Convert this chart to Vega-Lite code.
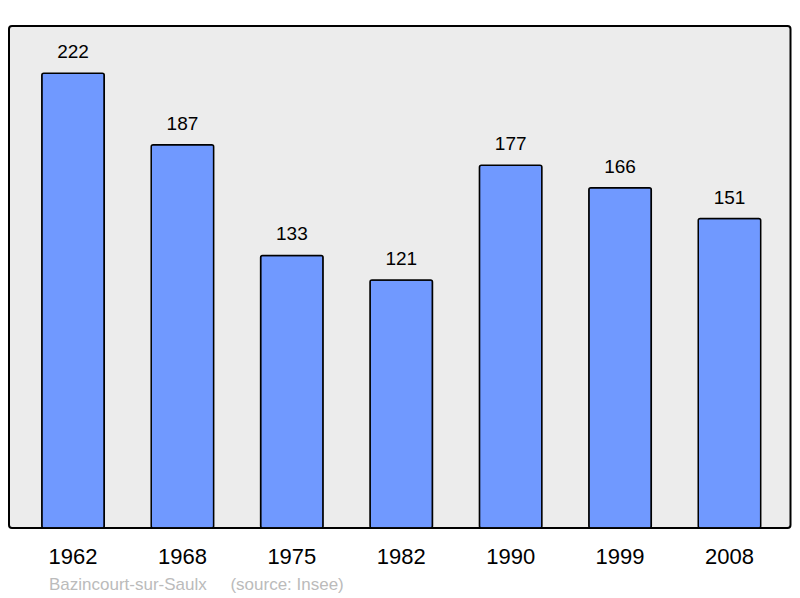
{
  "$schema": "https://vega.github.io/schema/vega-lite/v6.json",
  "autosize": "none",
  "width": 781.5,
  "height": 502,
  "padding": {"left": 9, "top": 26, "right": 9.5, "bottom": 70},
  "background": "white",
  "config": {
    "font": "Liberation Sans",
    "view": {"fill": "#ececec", "stroke": "black", "strokeWidth": 2, "cornerRadius": 3}
  },
  "title": {
    "text": "Bazincourt-sur-Saulx\u00a0\u00a0\u00a0\u00a0\u00a0(source: Insee)",
    "orient": "bottom",
    "anchor": "start",
    "frame": "group",
    "dx": 40,
    "offset": 10,
    "fontSize": 17,
    "fontWeight": "normal",
    "color": "#bbbbbb",
    "font": "Liberation Sans"
  },
  "data": {
    "values": [
      {"year": "1962", "pop": 222},
      {"year": "1968", "pop": 187},
      {"year": "1975", "pop": 133},
      {"year": "1982", "pop": 121},
      {"year": "1990", "pop": 177},
      {"year": "1999", "pop": 166},
      {"year": "2008", "pop": 151}
    ]
  },
  "encoding": {
    "x": {
      "field": "year",
      "type": "ordinal",
      "sort": null,
      "scale": {"paddingInner": 0.429, "paddingOuter": 0.286, "align": 0.524},
      "axis": {
        "title": null,
        "domain": false,
        "ticks": false,
        "tickSize": 0,
        "grid": false,
        "labelAngle": 0,
        "labelFontSize": 22,
        "labelColor": "black",
        "labelBaseline": "alphabetic",
        "labelPadding": 35
      }
    },
    "y": {
      "field": "pop",
      "type": "quantitative",
      "scale": {"domain": [0, 245], "nice": false, "zero": true},
      "axis": null
    }
  },
  "layer": [
    {
      "mark": {"type": "bar", "fill": "#7099ff", "stroke": "black", "strokeWidth": 1.5, "cornerRadius": 2}
    },
    {
      "mark": {"type": "text", "dy": -15, "baseline": "alphabetic", "fontSize": 19, "color": "black"},
      "encoding": {"text": {"field": "pop", "type": "quantitative"}}
    }
  ]
}
